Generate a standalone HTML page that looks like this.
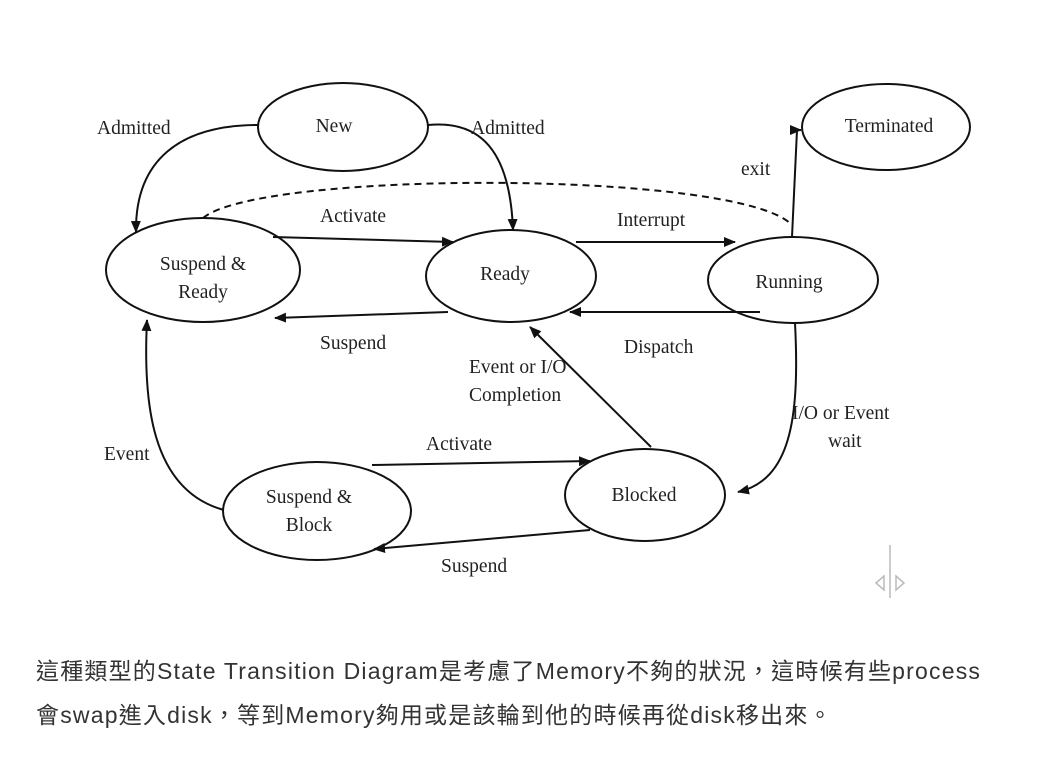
<!DOCTYPE html>
<html><head><meta charset="utf-8"><style>
body{margin:0;background:#fff;width:1045px;height:759px;overflow:hidden}
svg{position:absolute;left:0;top:0}
.t{font-family:"Liberation Serif",serif;font-size:19.5px;fill:#222}
.cap{position:absolute;left:36px;font-family:"Liberation Sans","Noto Sans CJK TC",sans-serif;font-size:23px;letter-spacing:1.2px;color:#333;white-space:nowrap}
</style></head><body>
<svg width="1045" height="759" viewBox="0 0 1045 759">
<defs><marker id="a" markerWidth="12" markerHeight="10" refX="11" refY="5" orient="auto" markerUnits="userSpaceOnUse"><path d="M0,0 L12,5 L0,10 Z" fill="#111"/></marker></defs>
<g fill="none" stroke="#111" stroke-width="2">
<ellipse cx="343" cy="127" rx="85" ry="44"/>
<ellipse cx="886" cy="127" rx="84" ry="43"/>
<ellipse cx="203" cy="270" rx="97" ry="52"/>
<ellipse cx="511" cy="276" rx="85" ry="46"/>
<ellipse cx="793" cy="280" rx="85" ry="43"/>
<ellipse cx="317" cy="511" rx="94" ry="49"/>
<ellipse cx="645" cy="495" rx="80" ry="46"/>
<path d="M258,125 C180,125 135,160 136,232" marker-end="url(#a)"/>
<path d="M428,125 C480,120 510,150 513,230" marker-end="url(#a)"/>
<path d="M792,237 L797,130 L801,130" marker-end="url(#a)"/>
<path d="M203,218 C260,170 740,170 792,225" stroke-dasharray="7,5"/>
<path d="M273,237 L453,242" marker-end="url(#a)"/>
<path d="M448,312 L275,318" marker-end="url(#a)"/>
<path d="M576,242 L735,242" marker-end="url(#a)"/>
<path d="M760,312 L570,312" marker-end="url(#a)"/>
<path d="M795,323 C800,420 790,480 738,492" marker-end="url(#a)"/>
<path d="M651,447 L530,327" marker-end="url(#a)"/>
<path d="M372,465 L590,461" marker-end="url(#a)"/>
<path d="M590,530 L374,549" marker-end="url(#a)"/>
<path d="M224,510 C150,490 143,400 147,320" marker-end="url(#a)"/>
</g>
<g stroke="#bbb" stroke-width="1.5" fill="none"><path d="M890,545 V598"/><path d="M884,576 L876,583 L884,590 Z M896,576 L904,583 L896,590 Z"/></g>
<text class="t" x="334" y="132" text-anchor="middle">New</text>
<text class="t" x="889" y="132" text-anchor="middle">Terminated</text>
<text class="t" x="203" y="270" text-anchor="middle">Suspend &amp;</text>
<text class="t" x="203" y="298" text-anchor="middle">Ready</text>
<text class="t" x="505" y="280" text-anchor="middle">Ready</text>
<text class="t" x="789" y="288" text-anchor="middle">Running</text>
<text class="t" x="309" y="503" text-anchor="middle">Suspend &amp;</text>
<text class="t" x="309" y="531" text-anchor="middle">Block</text>
<text class="t" x="644" y="501" text-anchor="middle">Blocked</text>
<text class="t" x="97" y="134">Admitted</text>
<text class="t" x="471" y="134">Admitted</text>
<text class="t" x="741" y="175">exit</text>
<text class="t" x="320" y="222">Activate</text>
<text class="t" x="617" y="226">Interrupt</text>
<text class="t" x="320" y="349">Suspend</text>
<text class="t" x="624" y="353">Dispatch</text>
<text class="t" x="469" y="373">Event or I/O</text>
<text class="t" x="469" y="401">Completion</text>
<text class="t" x="792" y="419">I/O or Event</text>
<text class="t" x="828" y="447">wait</text>
<text class="t" x="104" y="460">Event</text>
<text class="t" x="426" y="450">Activate</text>
<text class="t" x="441" y="572">Suspend</text>
</svg>
<div class="cap" style="top:652px">這種類型的State Transition Diagram是考慮了Memory不夠的狀況，這時候有些process</div>
<div class="cap" style="top:696px">會swap進入disk，等到Memory夠用或是該輪到他的時候再從disk移出來。</div>
</body></html>
